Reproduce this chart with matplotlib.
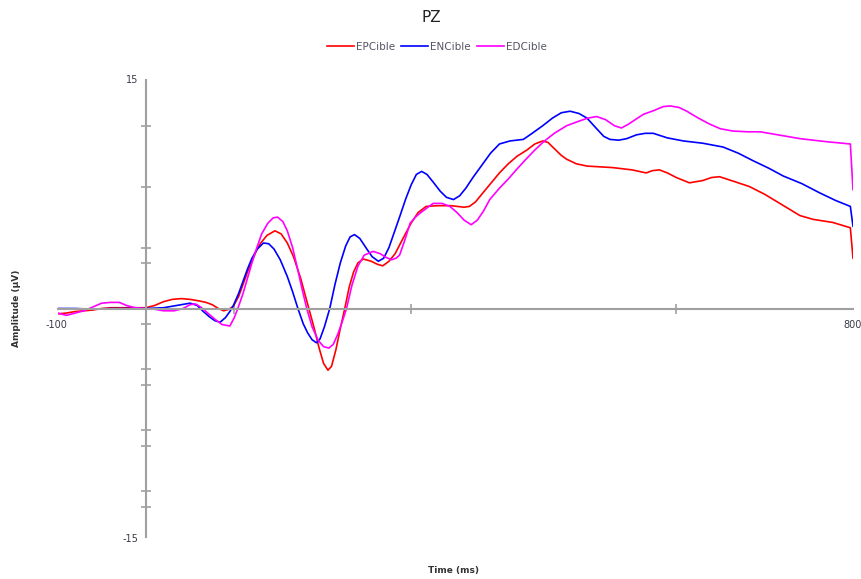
import matplotlib.pyplot as plt

# --- data ---
t_ep = [-100, -90, -80, -70, -60, -50, -40, -20, 0, 10, 20, 30, 40, 50, 60, 68, 75, 82, 88, 94,
        99, 105, 110, 115, 120, 125, 130, 137, 146, 153, 160, 167, 175, 182, 190, 196, 201, 206, 210, 215,
        220, 225, 230, 235, 240, 246, 255, 262, 268, 275, 282, 290, 300, 308, 317, 330, 345, 360, 366, 373,
        380, 390, 400, 410, 420, 431, 440, 449, 455, 462, 470, 476, 487, 499, 528, 550, 566, 573, 581, 590,
        600, 615, 630, 640, 649, 665, 683, 700, 720, 740, 755, 777, 797, 800]
v_ep = [-0.35, -0.3, -0.2, -0.15, -0.1, 0.0, 0.05, 0.05, 0.05, 0.2, 0.45, 0.6, 0.65, 0.6, 0.5, 0.4, 0.25, 0.0, -0.15, -0.05,
        0.15, 0.8, 1.6, 2.4, 3.1, 3.8, 4.3, 4.8, 5.1, 4.9, 4.3, 3.4, 2.0, 0.5, -1.2, -2.6, -3.6, -4.05, -3.8, -2.7,
        -1.3, 0.0, 1.4, 2.4, 3.0, 3.25, 3.1, 2.9, 2.8, 3.1, 3.6, 4.5, 5.6, 6.3, 6.7, 6.75, 6.75, 6.65, 6.7, 7.0,
        7.5, 8.2, 8.9, 9.5, 10.0, 10.4, 10.8, 11.0, 10.9, 10.5, 10.05, 9.8, 9.5, 9.35, 9.25, 9.1, 8.9, 9.05, 9.1, 8.9,
        8.6, 8.25, 8.4, 8.6, 8.65, 8.35, 8.0, 7.5, 6.8, 6.1, 5.85, 5.65, 5.3, 3.3]

t_en = [-100, -80, -60, -40, -20, 0, 20, 35, 50, 58, 65, 72, 78, 84, 90, 95, 99, 105, 110, 115,
        120, 126, 133, 139, 145, 152, 160, 166, 172, 178, 183, 188, 193, 197, 202, 208, 214, 220, 226, 231,
        236, 242, 250, 256, 263, 269, 275, 281, 287, 294, 300, 306, 312, 318, 325, 333, 340, 348, 355, 362,
        370, 380, 390, 400, 412, 427, 437, 449, 460, 470, 480, 490, 499, 510, 518, 525, 535, 544, 555, 565,
        574, 590, 608, 630, 653, 670, 687, 705, 721, 742, 762, 780, 797, 800]
v_en = [0.0, 0.0, -0.05, 0.0, 0.0, 0.0, 0.05, 0.2, 0.35, 0.2, -0.2, -0.55, -0.8, -0.9, -0.6, -0.2, 0.2, 1.0, 1.8, 2.6,
        3.3, 3.9, 4.3, 4.25, 3.9, 3.2, 2.1, 1.1, 0.0, -1.0, -1.6, -2.05, -2.25, -2.0, -1.2, 0.0, 1.6, 3.0, 4.1, 4.7,
        4.85, 4.6, 3.9, 3.4, 3.1, 3.3, 4.0, 5.0, 6.0, 7.2, 8.1, 8.8, 9.0, 8.8, 8.3, 7.7, 7.3, 7.15, 7.4, 7.9,
        8.6, 9.4, 10.2, 10.8, 11.0, 11.1, 11.5, 12.0, 12.5, 12.85, 12.95, 12.8, 12.5, 11.8, 11.3, 11.1, 11.05, 11.15, 11.4, 11.5,
        11.5, 11.2, 11.0, 10.85, 10.6, 10.2, 9.7, 9.2, 8.7, 8.2, 7.6, 7.1, 6.7, 5.4]

t_ed = [-100, -90, -80, -70, -60, -50, -40, -30, -22, -12, 0, 10, 20, 32, 42, 50, 56, 62, 70, 78,
        86, 95, 100, 104, 110, 115, 120, 125, 131, 138, 144, 149, 155, 160, 166, 172, 177, 182, 188, 195,
        201, 207, 212, 217, 222, 227, 233, 240, 247, 257, 265, 272, 278, 283, 287, 293, 299, 305, 310, 318,
        325, 335, 344, 352, 360, 368, 375, 382, 389, 400, 410, 419, 430, 440, 449, 462, 476, 490, 500, 510,
        520, 530, 538, 546, 555, 563, 575, 585, 593, 603, 612, 625, 638, 650, 664, 680, 695, 715, 740, 770,
        797, 800]
v_ed = [-0.3, -0.45, -0.3, -0.15, 0.1, 0.35, 0.4, 0.4, 0.2, 0.05, 0.0, -0.05, -0.15, -0.15, 0.0, 0.25, 0.3, 0.1, -0.3, -0.7,
        -1.05, -1.15, -0.6, 0.0, 1.0, 2.0, 3.0, 3.9, 4.9, 5.6, 5.95, 6.0, 5.7, 5.1, 4.0, 2.5, 1.2, 0.0, -1.2, -2.1,
        -2.5, -2.6, -2.35, -1.7, -0.9, 0.0, 1.5, 2.8, 3.5, 3.75, 3.6, 3.35, 3.2, 3.3, 3.5, 4.5, 5.6, 6.0, 6.25, 6.6,
        6.9, 6.9, 6.7, 6.3, 5.8, 5.5, 5.8, 6.4, 7.15, 7.9, 8.5, 9.1, 9.8, 10.4, 10.9, 11.5, 12.0, 12.3, 12.5, 12.6,
        12.4, 12.0, 11.85, 12.1, 12.45, 12.75, 13.0, 13.25, 13.3, 13.2, 12.95, 12.5, 12.1, 11.8, 11.65, 11.6, 11.6, 11.4, 11.15, 10.95,
        10.8, 7.8]

series_names = ["EPCible", "ENCible", "EDCible"]
series_colors = ["#ff0000", "#0000ff", "#ff00ff"]

x_ticks = [100, 300, 600]
y_ticks = [12, 8, 4, 3, -1, -4, -5, -8, -9, -12, -13]

# --- figure ---
fig = plt.figure(figsize=(8.61, 5.79), dpi=100)
ax = fig.add_axes([57.5 / 861, 1 - 537 / 579, (853 - 57.5) / 861, (537 - 80) / 579])
ax.set_xlim(-100, 800)
ax.set_ylim(-15, 15)

axis_col = "#a0a0a0"
for side in ["top", "right"]:
    ax.spines[side].set_visible(False)
ax.spines["left"].set_position(("data", 0))
ax.spines["bottom"].set_position(("data", 0))
for side in ["left", "bottom"]:
    ax.spines[side].set_color(axis_col)
    ax.spines[side].set_linewidth(1.5)

ax.set_xticks(x_ticks)
ax.set_yticks(y_ticks)
ax.set_xticklabels([])
ax.set_yticklabels([])
ax.tick_params(direction="inout", length=7, width=1.2, color=axis_col)

for t, v, name, col in zip([t_ep, t_en, t_ed], [v_ep, v_en, v_ed], series_names, series_colors):
    ax.plot(t, v, color=col, lw=1.2, label=name)

lab_col = "#3a3a48"
fig.text(56 / 861, 1 - 325 / 579, "-100", ha="center", va="center", fontsize=7, color=lab_col)
fig.text(843 / 861, 1 - 325 / 579, "800", ha="left", va="center", fontsize=7, color=lab_col)
fig.text(138 / 861, 1 - 80 / 579, "15", ha="right", va="center", fontsize=7, color=lab_col)
fig.text(138 / 861, 1 - 539 / 579, "-15", ha="right", va="center", fontsize=7, color=lab_col)

fig.text(17 / 861, 1 - 308 / 579, "Amplitude (µV)", rotation=90, ha="center", va="center",
         fontsize=6.5, fontweight="bold", color="#333333")
fig.text(454 / 861, 1 - 570 / 579, "Time (ms)", ha="center", va="center",
         fontsize=6.5, fontweight="bold", color="#333333")

fig.text(431 / 861, 1 - 17 / 579, "PZ", ha="center", va="center", fontsize=11, color="#222222")

fig.legend(loc="center", bbox_to_anchor=(437 / 861, 1 - 47 / 579), ncol=3, frameon=False,
           fontsize=7.5, handlelength=2.6, handletextpad=0.2, columnspacing=0.6, labelcolor="#555566")

plt.savefig("out.png", dpi=100)
